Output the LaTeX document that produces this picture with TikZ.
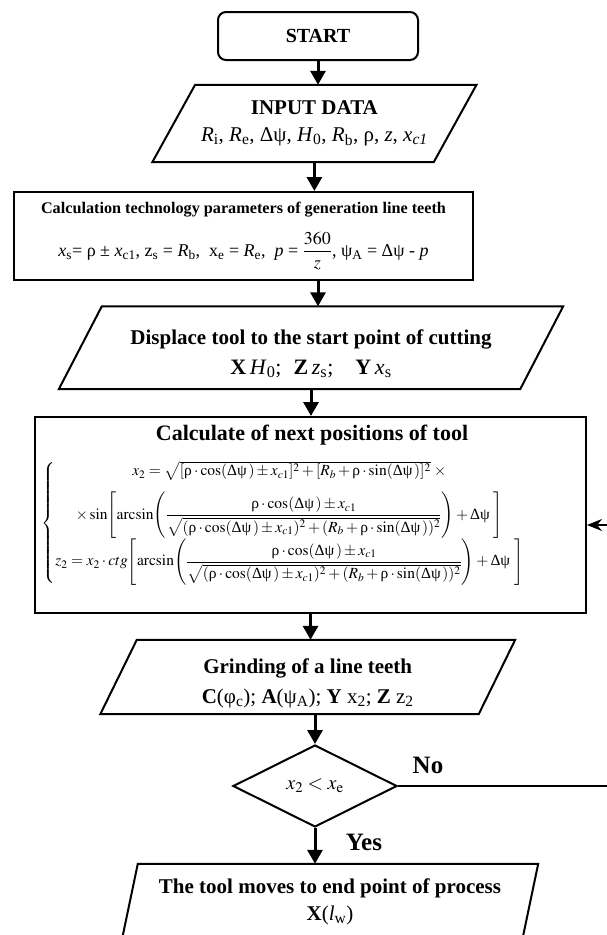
\documentclass[tikz,border=0pt]{standalone}
\usepackage{amsmath}
\usepackage{mathptmx}
\usepackage{fontspec}
\setmainfont{Liberation Serif}
\usetikzlibrary{shapes.geometric,arrows.meta}
\newcommand{\grho}{\text{ρ}}
\newcommand{\gD}{\text{Δψ}}
\newcommand{\fs}[2]{\fontsize{#1}{#2}\selectfont}
\newcommand{\drawpara}[2]{\draw[border] ([xshift=#2 pt]#1.north west) -- ([xshift=#2 pt]#1.north east) -- ([xshift=-#2 pt]#1.south east) -- ([xshift=-#2 pt]#1.south west) -- cycle;}
\begin{document}
\begin{tikzpicture}[x=1pt,y=-1pt,
  border/.style={line width=2pt,line join=miter},
  arr/.style={line width=3pt,-{Triangle[width=15pt,length=14pt]}},
  plain/.style={inner sep=0pt,align=center},
  fbarrow/.style={line width=2pt,-{Stealth[length=15pt,width=12pt]}}]
\useasboundingbox (0,0) rectangle (607,935);
\clip (0,0) rectangle (607,935);
\fill[white] (0,0) rectangle (607,935);

% START
\node[draw,border,rounded corners=8pt,minimum width=200pt,minimum height=48pt,inner sep=0pt,font=\fs{20}{24}\bfseries] (start) at (318,36) {START};

% INPUT DATA
\node[plain,minimum width=281pt,minimum height=77pt,font=\fs{21}{27}] (input) at (314.4,123.5)
  {\textbf{INPUT DATA}\\ \textit{R}\textsubscript{i}, \textit{R}\textsubscript{e}, Δψ, \textit{H}\textsubscript{0}, \textit{R}\textsubscript{b}, ρ, \textit{z}, \textit{x\textsubscript{c1}}};
\drawpara{input}{21.4}

% Calculation technology parameters
\node[draw,border,plain,minimum width=459pt,minimum height=88pt] (calc) at (243.5,236)
  {{\fs{16.2}{20}\bfseries Calculation technology parameters of generation line teeth}\\[14pt]
   {\fs{18}{22}\textit{x}\textsubscript{s}= ρ ± \textit{x}\textsubscript{c1}, z\textsubscript{s} = \textit{R}\textsubscript{b}, \ x\textsubscript{e} = \textit{R}\textsubscript{e}, \ \textit{p} = $\dfrac{360}{z}$, ψ\textsubscript{A} = Δψ - \textit{p}}};

% Displace
\node[minimum width=461pt,minimum height=82.5pt,inner sep=0pt] (disp) at (311,347.75) {};
\drawpara{disp}{21.5}
\node[plain,font=\fs{21}{30}] (disptext) at ([yshift=-6pt]disp.center)
  {\textbf{Displace tool to the start point of cutting}\\ {\fs{22}{30}\textbf{X}\,\textit{H}\textsubscript{0};\hspace{12pt}\textbf{Z}\,\textit{z}\textsubscript{s};\hspace{22pt}\textbf{Y}\,\textit{x}\textsubscript{s}}};

% Calculate of next positions
\node[draw,border,minimum width=551pt,minimum height=196pt,inner sep=0pt] (next) at (310.5,515) {};
\node[plain,font=\fs{22}{26}\bfseries] (nexttitle) at (312,435) {Calculate of next positions of tool};
\node[plain,font=\fs{15.5}{18}] (eq) at (283,523) {$\left\{\begin{array}{@{}c@{}}
x_2=\sqrt{[\grho\cdot\cos(\gD\,)\pm x_{c1}]^2+[R_b+\grho\cdot\sin(\gD\,)]^2}\;\times\\[11pt]
\times\sin\!\left[\arcsin\!\left(\dfrac{\grho\cdot\cos(\gD\,)\pm x_{c1}}{\sqrt{(\grho\cdot\cos(\gD\,)\pm x_{c1})^2+(R_b+\grho\cdot\sin(\gD\,))^2}}\right)+\gD\ \right]\\[9pt]
z_2=x_2\cdot ctg\!\left[\arcsin\!\left(\dfrac{\grho\cdot\cos(\gD\,)\pm x_{c1}}{\sqrt{(\grho\cdot\cos(\gD\,)\pm x_{c1})^2+(R_b+\grho\cdot\sin(\gD\,))^2}}\right)+\gD\ \right]
\end{array}\right.$};

% Grinding
\node[minimum width=378pt,minimum height=74pt,inner sep=0pt] (grind) at (307.75,677) {};
\drawpara{grind}{18.25}
\node[plain,font=\fs{21}{30}] (grindtext) at ([yshift=-6pt]grind.center)
  {\textbf{Grinding of a line teeth}\\ \textbf{C}(φ\textsubscript{c}); \textbf{A}(ψ\textsubscript{A}); \textbf{Y} x\textsubscript{2}; \textbf{Z} z\textsubscript{2}};

% Decision
\node[diamond,draw,border,aspect=2,minimum width=164pt,minimum height=82pt,inner sep=0pt,font=\fs{20}{24}] (dec) at (315,786) {$x_2<x_{\mathrm{e}}$};
\node[font=\fs{25}{30}\bfseries] (nolab) at (428,765) {No};
\node[font=\fs{25}{30}\bfseries] (yeslab) at (364,842) {Yes};

% End
\node[plain,minimum width=400pt,minimum height=76pt,font=\fs{21}{27}] (end) at (330,902)
  {\textbf{The tool moves to end point of process}\\ \textbf{X}(\textit{l}\textsubscript{w})};
\drawpara{end}{8}

% connectors
\draw[arr] (start.south) -- (start.south |- input.north);
\draw[arr] (input.south) -- (input.south |- calc.north);
\draw[arr] (start.south |- calc.south) -- (start.south |- disp.north);
\draw[arr] (disp.south) -- (disp.south |- next.north);
\draw[arr] (next.south) -- (next.south |- grind.north);
\draw[arr] (dec.north |- grind.south) -- (dec.north);
\draw[arr] (dec.south) -- (dec.south |- end.north);
\coordinate (fb) at (614,525);
\draw[border] (dec.east) -| (fb);
\draw[fbarrow] (fb) -- (fb -| next.east);
\end{tikzpicture}
\end{document}
